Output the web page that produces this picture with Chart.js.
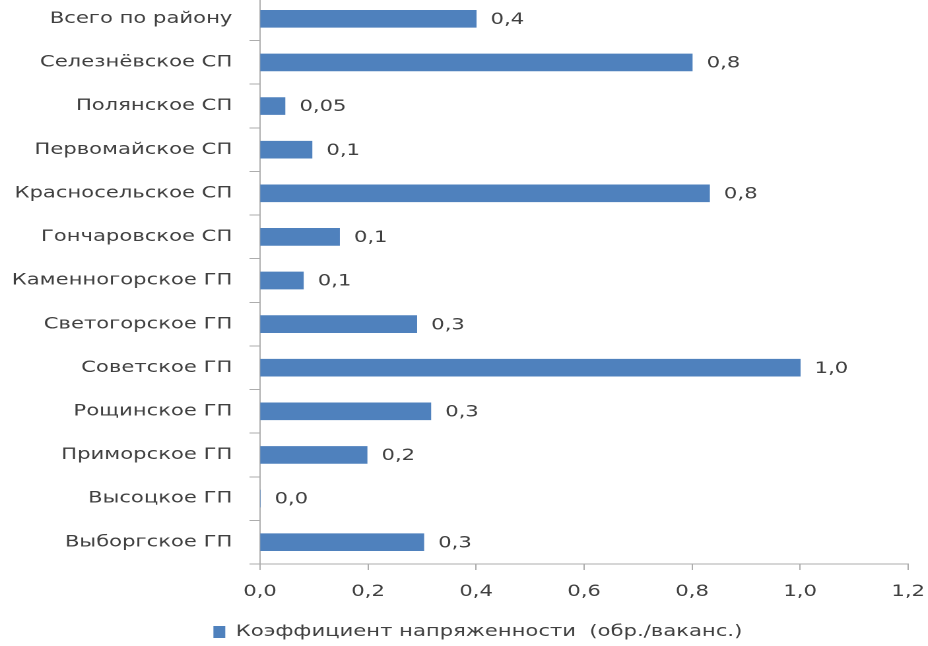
<!DOCTYPE html>
<html>
<head>
<meta charset="utf-8">
<script src="https://cdn.jsdelivr.net/npm/chart.js@4.4.1/dist/chart.umd.min.js"></script>
<style>
  html, body { margin: 0; padding: 0; background: #fff; overflow: hidden; }
  body { width: 928px; height: 646px; position: relative; }
  #wrap { position: absolute; left: 0; top: -3px; transform: scaleX(1.32); transform-origin: 0 0; }
</style>
</head>
<body>
<div id="wrap"><canvas id="bars" width="703" height="660"></canvas></div>
<script>
const categories = [
  "Всего по району", "Селезнёвское СП", "Полянское СП", "Первомайское СП",
  "Красносельское СП", "Гончаровское СП", "Каменногорское ГП", "Светогорское ГП",
  "Советское ГП", "Рощинское ГП", "Приморское ГП", "Высоцкое ГП", "Выборгское ГП"
];
const values = [0.40, 0.80, 0.046, 0.096, 0.832, 0.147, 0.080, 0.290, 1.0, 0.316, 0.198, 0, 0.303];
const valueLabels = ["0,4", "0,8", "0,05", "0,1", "0,8", "0,1", "0,1", "0,3", "1,0", "0,3", "0,2", "0,0", "0,3"];
const seriesName = "Коэффициент напряженности  (обр./ваканс.)";

const textColor = "#404040";
const axisColor = "#ADADAD";

Chart.defaults.font.family = "'DejaVu Sans', Verdana, sans-serif";
Chart.defaults.font.size = 16;
Chart.defaults.color = textColor;

// value labels right of each bar
const barLabels = {
  id: "barLabels",
  afterDatasetsDraw(chart) {
    const ctx = chart.ctx;
    const meta = chart.getDatasetMeta(0);
    ctx.save();
    ctx.font = "16px 'DejaVu Sans', Verdana, sans-serif";
    ctx.fillStyle = textColor;
    ctx.textAlign = "left";
    ctx.textBaseline = "middle";
    meta.data.forEach((bar, i) => {
      ctx.fillText(valueLabels[i], bar.x + 11, bar.y + 1);
    });
    ctx.restore();
  }
};

// legend sits a bit right of the canvas centre in the original
const legendShift = {
  id: "legendShift",
  afterLayout(chart) {
    chart.legend.left += 18;
    chart.legend.right += 18;
  }
};

new Chart(document.getElementById("bars"), {
  type: "bar",
  data: {
    labels: categories,
    datasets: [{
      label: seriesName,
      data: values,
      backgroundColor: "#4F81BD",
      barThickness: 17
    }]
  },
  options: {
    indexAxis: "y",
    responsive: false,
    animation: false,
    devicePixelRatio: 2,
    layout: { padding: { left: 0, right: 15, top: 0, bottom: 7 } },
    plugins: {
      legend: {
        position: "bottom",
        labels: { boxWidth: 9, boxHeight: 12, padding: 4, color: textColor, font: { size: 16 } }
      },
      tooltip: { enabled: false }
    },
    scales: {
      y: {
        grid: { drawOnChartArea: false, drawTicks: true, tickLength: 8, color: axisColor },
        border: { color: axisColor },
        ticks: { padding: 13, color: textColor, font: { size: 16 } },
        afterFit(scale) {
          scale.width = 197;
          scale.paddingTop = 0;
          scale.paddingBottom = 0;
        }
      },
      x: {
        min: 0,
        max: 1.2,
        grid: { drawOnChartArea: false, drawTicks: true, tickLength: 6, color: axisColor },
        border: { color: axisColor },
        ticks: {
          stepSize: 0.2,
          padding: 12,
          color: textColor,
          font: { size: 16 },
          callback: v => v.toFixed(1).replace(".", ",")
        },
        afterFit(scale) {
          scale.height = 56;
          scale.paddingLeft = 0;
          scale.paddingRight = 0;
        }
      }
    }
  },
  plugins: [barLabels, legendShift]
});
</script>
</body>
</html>
